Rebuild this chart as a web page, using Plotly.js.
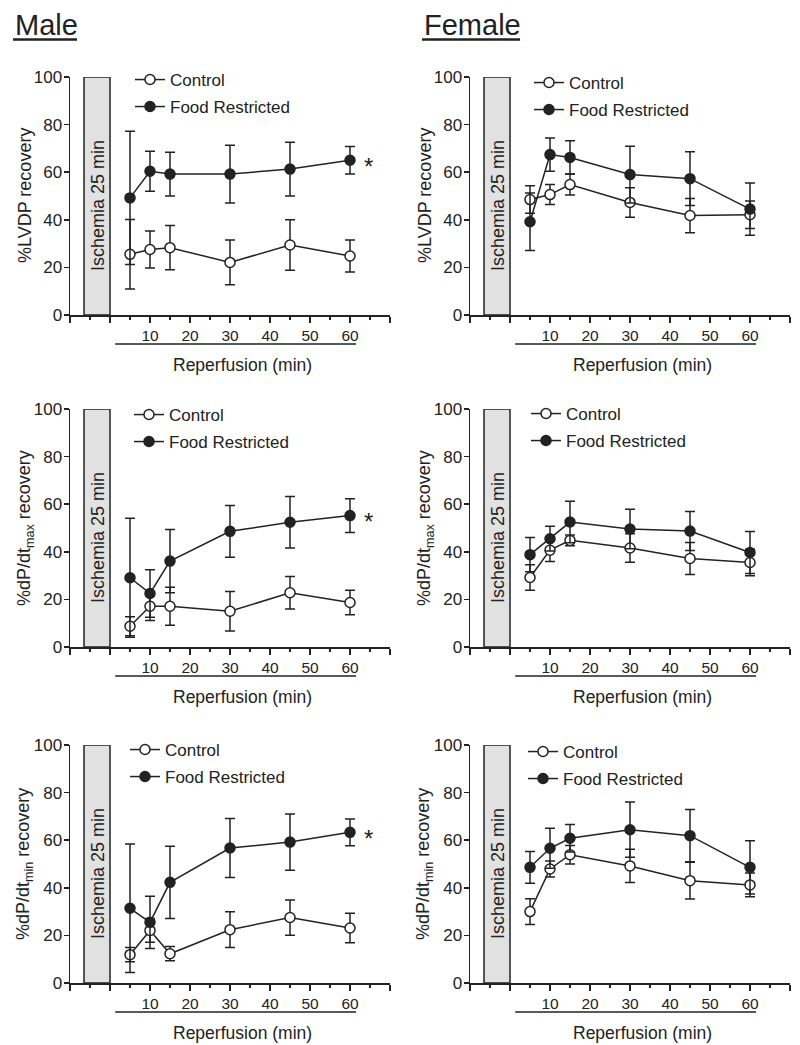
<!DOCTYPE html>
<html>
<head>
<meta charset="utf-8">
<script src="https://cdn.plot.ly/plotly-3.0.1.min.js"></script>
<style>
  html, body { margin: 0; padding: 0; background: #fff; }
  #chart { width: 800px; height: 1045px; }
</style>
</head>
<body>
<div id="chart"></div>
<script>
// reperfusion time points (min)
const times = [5, 10, 15, 30, 45, 60];
const xTickVals = [-10, 0, 10, 20, 30, 40, 50, 60, 70];
const xTickText = ['', '', '10', '20', '30', '40', '50', '60', ''];
const xMinorVals = [-5, 5, 15, 25, 35, 45, 55, 65];

// %LVDP recovery
const maleLvdpCtrl = [25.5, 27.5, 28.3, 22.1, 29.4, 24.8];
const maleLvdpCtrlErr = [14.6, 7.8, 9.3, 9.4, 10.6, 6.7];
const maleLvdpFR = [49.2, 60.4, 59.2, 59.2, 61.3, 65.0];
const maleLvdpFRErr = [28.0, 8.4, 9.2, 12.1, 11.3, 5.8];
const femLvdpCtrl = [48.5, 50.6, 54.8, 47.3, 41.8, 42.1];
const femLvdpCtrlErr = [5.8, 4.2, 4.4, 6.2, 7.2, 5.8];
const femLvdpFR = [39.2, 67.4, 66.2, 59.0, 57.3, 44.5];
const femLvdpFRErr = [12.1, 7.0, 7.0, 11.9, 11.3, 11.0];

// %dP/dt max recovery
const maleMaxCtrl = [8.7, 17.1, 17.1, 15.0, 22.8, 18.7];
const maleMaxCtrlErr = [4.0, 6.0, 8.0, 8.3, 6.8, 5.1];
const maleMaxFR = [29.1, 22.5, 36.1, 48.6, 52.4, 55.2];
const maleMaxFRErr = [25.0, 10.0, 13.3, 10.9, 10.8, 7.1];
const femMaxCtrl = [29.2, 40.7, 44.8, 41.6, 37.2, 35.5];
const femMaxCtrlErr = [5.4, 4.8, 2.3, 6.0, 6.7, 5.6];
const femMaxFR = [38.8, 45.5, 52.5, 49.6, 48.7, 39.7];
const femMaxFRErr = [7.2, 5.2, 8.7, 8.3, 8.2, 8.8];

// %dP/dt min recovery
const maleMinCtrl = [11.9, 22.1, 12.3, 22.4, 27.5, 23.1];
const maleMinCtrlErr = [3.0, 5.0, 3.0, 7.5, 7.4, 6.2];
const maleMinFR = [31.4, 25.5, 42.3, 56.7, 59.2, 63.3];
const maleMinFRErr = [27.0, 11.0, 15.2, 12.4, 11.8, 5.6];
const femMinCtrl = [30.0, 47.9, 53.9, 49.2, 43.0, 41.2];
const femMinCtrlErr = [5.4, 3.4, 3.9, 7.0, 7.7, 5.0];
const femMinFR = [48.6, 56.6, 60.8, 64.4, 61.9, 48.6];
const femMinFRErr = [6.7, 8.4, 5.8, 11.6, 11.0, 11.2];

const INK = '#222';
const LW = 1.5;
const FONT = 'Liberation Sans, Arial, Helvetica, sans-serif';
const W = 800, H = 1045;

// panel frames in pixels (left, right / top, bottom of plot area)
const cols = [[70, 390], [470, 790]];
const rows = [[77, 315], [409, 647], [745, 983]];

const panels = [
  { ctrl: maleLvdpCtrl, ctrlErr: maleLvdpCtrlErr, fr: maleLvdpFR, frErr: maleLvdpFRErr, ytitle: '%LVDP recovery', star: true, legY: [80, 107], legX: 135 },
  { ctrl: femLvdpCtrl, ctrlErr: femLvdpCtrlErr, fr: femLvdpFR, frErr: femLvdpFRErr, ytitle: '%LVDP recovery', star: false, legY: [83, 110], legX: 534 },
  { ctrl: maleMaxCtrl, ctrlErr: maleMaxCtrlErr, fr: maleMaxFR, frErr: maleMaxFRErr, ytitle: '%dP/dt<sub>max</sub> recovery', star: true, legY: [415, 442], legX: 134 },
  { ctrl: femMaxCtrl, ctrlErr: femMaxCtrlErr, fr: femMaxFR, frErr: femMaxFRErr, ytitle: '%dP/dt<sub>max</sub> recovery', star: false, legY: [414, 441], legX: 531 },
  { ctrl: maleMinCtrl, ctrlErr: maleMinCtrlErr, fr: maleMinFR, frErr: maleMinFRErr, ytitle: '%dP/dt<sub>min</sub> recovery', star: true, legY: [750, 777], legX: 130 },
  { ctrl: femMinCtrl, ctrlErr: femMinCtrlErr, fr: femMinFR, frErr: femMinFRErr, ytitle: '%dP/dt<sub>min</sub> recovery', star: false, legY: [752, 779], legX: 528 }
];

const data = [];
const shapes = [];
const annotations = [];
const layout = {
  width: W, height: H,
  margin: { l: 0, r: 0, t: 0, b: 0 },
  paper_bgcolor: '#fff', plot_bgcolor: '#fff',
  font: { family: FONT, color: INK, size: 17 },
  showlegend: true
};

let legCount = 0;
function newLegend(x, yc) {
  legCount += 1;
  const name = legCount === 1 ? 'legend' : 'legend' + legCount;
  layout[name] = {
    x: (x - 5) / W, y: 1 - (yc - 18) / H, xanchor: 'left', yanchor: 'top',
    bgcolor: 'rgba(0,0,0,0)', borderwidth: 0,
    font: { size: 17, family: FONT, color: INK }
  };
  return name;
}

panels.forEach((p, i) => {
  const n = i + 1;
  const sfx = n === 1 ? '' : String(n);
  const xa = 'x' + sfx, ya = 'y' + sfx;
  const [cl, cr] = cols[i % 2];
  const [rt, rb] = rows[Math.floor(i / 2)];
  const plotH = rb - rt;

  const common = {
    x: times, xaxis: xa, yaxis: ya, mode: 'lines+markers', type: 'scatter',
    line: { color: INK, width: LW }, cliponaxis: false
  };
  data.push(Object.assign({}, common, {
    y: p.ctrl, name: 'Control', legend: newLegend(p.legX, p.legY[0]),
    error_y: { type: 'data', array: p.ctrlErr, color: INK, thickness: LW, width: 5 },
    marker: { symbol: 'circle', size: 10, color: '#fff', line: { color: INK, width: LW } }
  }));
  data.push(Object.assign({}, common, {
    y: p.fr, name: 'Food Restricted', legend: newLegend(p.legX, p.legY[1]),
    error_y: { type: 'data', array: p.frErr, color: INK, thickness: LW, width: 5 },
    marker: { symbol: 'circle', size: 10, color: INK, line: { color: INK, width: LW } }
  }));

  layout['xaxis' + sfx] = {
    domain: [cl / W, cr / W], anchor: ya, range: [-10, 70],
    tickmode: 'array', tickvals: xTickVals, ticktext: xTickText,
    ticks: 'outside', ticklen: 6, tickwidth: LW, tickcolor: INK,
    minor: { tickmode: 'array', tickvals: xMinorVals, ticks: 'outside', ticklen: 3.5, tickwidth: LW, tickcolor: INK, showgrid: false },
    showline: true, linecolor: INK, linewidth: LW,
    showgrid: false, zeroline: false, fixedrange: true,
    tickfont: { size: 15.5, family: FONT, color: INK }
  };
  layout['yaxis' + sfx] = {
    domain: [1 - rb / H, 1 - rt / H], anchor: xa, range: [0, 100],
    tickvals: [0, 20, 40, 60, 80, 100],
    ticks: 'outside', ticklen: 5, tickwidth: LW, tickcolor: INK,
    showline: true, linecolor: INK, linewidth: LW,
    showgrid: false, zeroline: false, fixedrange: true,
    ticklabelstandoff: -2,
    tickfont: { size: 17, family: FONT, color: INK }
  };

  // y-axis title
  annotations.push({
    xref: 'paper', yref: ya + ' domain', x: (cl - 45) / W, y: 0.5,
    xanchor: 'center', yanchor: 'middle', textangle: -90,
    text: p.ytitle, showarrow: false, font: { size: 18, family: FONT, color: INK }
  });

  // ischemia block
  shapes.push({
    type: 'rect', xref: xa, yref: ya, x0: -6.5, x1: 0, y0: 0, y1: 100,
    fillcolor: '#e1e1e1', line: { color: INK, width: LW }, layer: 'above'
  });
  annotations.push({
    xref: xa, yref: ya, x: -3.1, y: 46, text: 'Ischemia 25 min', textangle: -90,
    showarrow: false, font: { size: 18, family: FONT, color: INK }
  });
  // reperfusion bracket line under the tick labels
  shapes.push({
    type: 'line', xref: xa + ' domain', yref: ya + ' domain',
    x0: (1.3 + 10) / 80, x1: (61.5 + 10) / 80, y0: -29 / plotH, y1: -29 / plotH,
    line: { color: INK, width: LW }
  });
  annotations.push({
    xref: xa, yref: ya + ' domain', x: 33, y: -50 / plotH, yanchor: 'middle',
    text: 'Reperfusion (min)', showarrow: false,
    font: { size: 17.5, family: FONT, color: INK }
  });
  if (p.star) {
    annotations.push({
      xref: xa, yref: ya, x: 64.5, y: p.fr[p.fr.length - 1], text: '*',
      showarrow: false, yshift: -6, font: { size: 24, family: FONT, color: INK }
    });
  }
});

// column headers
[['Male', 13, 77], ['Female', 422, 520]].forEach(([txt, x0, x1]) => {
  annotations.push({
    xref: 'paper', yref: 'paper', x: x0 / W, y: 1 - 25 / H, xanchor: 'left', yanchor: 'middle',
    text: txt, showarrow: false, font: { size: 29, family: FONT, color: INK }
  });
  shapes.push({
    type: 'line', xref: 'paper', yref: 'paper', x0: x0 / W, x1: x1 / W,
    y0: 1 - 39.5 / H, y1: 1 - 39.5 / H, line: { color: INK, width: 2.4 }
  });
});

layout.shapes = shapes;
layout.annotations = annotations;

Plotly.newPlot('chart', data, layout, { displayModeBar: false, staticPlot: true });
</script>
</body>
</html>
